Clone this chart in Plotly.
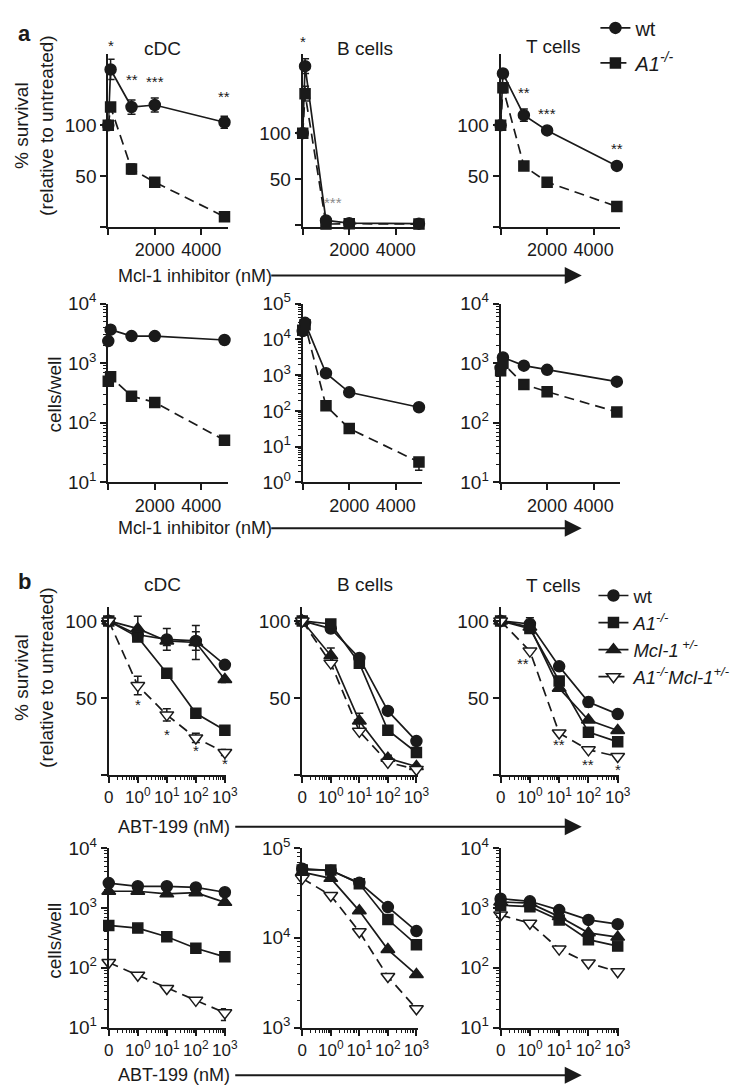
import math
import plotly.graph_objects as go

W, H = 746, 1092
INK = "#1a1a1a"
FONT = "Liberation Sans, Arial, sans-serif"

# ------------------------------------------------------------------ data
CELL_TYPES = ["cDC", "B cells", "T cells"]
MCL1_DOSE = [0, 100, 1000, 2000, 5000]          # nM, Mcl-1 inhibitor
ABT_DOSE = [0, 1, 10, 100, 1000]                # nM, ABT-199

# panel a: % survival (relative to untreated)
surv_a_cdc_wt = [100, 155, 118, 120, 103]
surv_a_cdc_wt_err = [0, 10, 7, 7, 6]
surv_a_cdc_a1 = [100, 118, 57, 44, 10]
surv_a_cdc_a1_err = [0, 4, 5, 2, 2]
surv_a_b_wt = [100, 173, 5, 2, 1.5]
surv_a_b_wt_err = [0, 8, 1, 1, 0.5]
surv_a_b_a1 = [100, 143, 1, 1.5, 1]
surv_a_b_a1_err = [0, 8, 0.5, 0.5, 0.5]
surv_a_t_wt = [100, 151, 110, 95, 60]
surv_a_t_wt_err = [0, 4, 6, 2, 2]
surv_a_t_a1 = [100, 137, 60, 44, 20]
surv_a_t_a1_err = [0, 5, 3, 2, 2]

# panel a: cells/well
cells_a_cdc_wt = [2350, 3650, 2850, 2850, 2450]
cells_a_cdc_a1 = [500, 590, 280, 220, 51]
cells_a_b_wt = [17000, 29000, 1130, 330, 126]
cells_a_b_a1 = [18000, 25700, 138, 32, 3.7]
cells_a_b_a1_err_up = [0, 0, 0, 0, 0.9]
cells_a_b_a1_err_down = [0, 0, 0, 0, 1.5]
cells_a_t_wt = [830, 1250, 910, 775, 490]
cells_a_t_a1 = [750, 1000, 440, 333, 152]

# panel b: % survival
surv_b_cdc_wt = [100, 91, 88, 87, 71.5]
surv_b_cdc_wt_err = [0, 3, 7, 6, 2]
surv_b_cdc_a1 = [100, 89.5, 66, 40, 29]
surv_b_cdc_mcl = [100, 95, 87, 86, 62]
surv_b_cdc_mcl_err = [0, 8, 3, 11, 2]
surv_b_cdc_dko = [100, 58, 39, 24, 14.6]
surv_b_cdc_dko_err = [0, 6, 4, 3, 2]

surv_b_b_wt = [100, 95, 76, 41.6, 22]
surv_b_b_a1 = [100, 98, 72.6, 29, 14.6]
surv_b_b_mcl = [100, 77.5, 35, 10.8, 5.5]
surv_b_b_mcl_err = [0, 5, 5, 2, 1]
surv_b_b_dko = [100, 72.6, 28.3, 8.2, 3.6]

surv_b_t_wt = [100, 98, 70.5, 47.3, 39.5]
surv_b_t_wt_err = [0, 4, 2, 3, 1]
surv_b_t_a1 = [100, 95, 61, 27.8, 21.5]
surv_b_t_mcl = [100, 96, 56.3, 35.7, 28.9]
surv_b_t_dko = [100, 80.4, 27.2, 16.3, 12]

# panel b: cells/well
cells_b_cdc_wt = [2600, 2300, 2300, 2200, 1830]
cells_b_cdc_a1 = [510, 460, 330, 212, 152]
cells_b_cdc_mcl = [1900, 1900, 1720, 1800, 1240]
cells_b_cdc_dko = [122, 75, 45, 28.5, 17.6]
cells_b_cdc_dko_err_up = [0, 0, 0, 0, 3]
cells_b_cdc_dko_err_down = [0, 0, 0, 0, 4.5]

cells_b_b_wt = [59000, 56000, 41000, 22000, 11900]
cells_b_b_a1 = [57000, 57000, 40000, 16000, 8400]
cells_b_b_mcl = [54000, 46000, 20000, 7400, 3900]
cells_b_b_dko = [46000, 29600, 11700, 3700, 1620]

cells_b_t_wt = [1430, 1290, 920, 630, 535]
cells_b_t_a1 = [1110, 1050, 630, 295, 230]
cells_b_t_mcl = [1260, 1200, 716, 383, 325]
cells_b_t_dko = [760, 555, 205, 120, 86]

# significance marks: (dose, y value, text)
stars_a_cdc = [(100, 178, "*"), (1000, 145, "**"), (2000, 143, "***"), (5000, 128, "**")]
stars_a_b = [(0, 199, "*"), (1300, 25, "***")]
stars_a_t = [(1000, 132, "**"), (2000, 112, "***"), (5000, 77, "**")]
stars_b_cdc = [(1, 46, "*"), (10, 26, "*"), (100, 15.6, "*"), (1000, 7.2, "*")]
stars_b_t = [(0.6, 72.5, "**"), (10, 19.9, "**"), (100, 6.6, "**"), (1000, 3.6, "*")]

# ------------------------------------------------------------------ layout helpers
ZERO_POS = 0.1   # where "0" sits on the log ABT-199 axis


def px(x):
    return x / W


def py(y):
    return 1 - y / H


XDOM_A = [(97.5, 220), (296.5, 419), (499, 621.5)]
XDOM_B = [(98, 218), (296, 414), (499, 620)]
YDOM = {"at": (31, 208), "ab": (286.7, 470), "bt": (598, 770), "bb": (845, 1029)}

COMMON = dict(showline=True, linecolor=INK, linewidth=2, ticks="outside", ticklen=6,
              tickwidth=2, tickcolor=INK, showgrid=False, zeroline=False,
              tickfont=dict(size=19, family=FONT, color=INK), fixedrange=True)


def log_minor(lo, hi):
    return dict(tickmode="array", ticks="outside", ticklen=3, tickwidth=1.3, tickcolor=INK,
                showgrid=False,
                tickvals=[m * 10 ** k for k in range(lo, hi) for m in range(2, 10)])


def log_y(lo, hi):
    return dict(type="log", range=[lo, hi], tickmode="array",
                tickvals=[10 ** k for k in range(lo, hi + 1)],
                ticktext=[f"10<sup>{k}</sup>" for k in range(lo, hi + 1)],
                minor=log_minor(lo, hi))


def lin_y(top, bottom=0):
    return dict(range=[bottom, top], tickmode="array", tickvals=[0, 50, 100],
                ticktext=["", "50", "100"])


X_MCL = dict(range=[0, 5150], tickmode="array", tickvals=[0, 2000, 4000],
             ticktext=["", "2000", "4000"], tickangle=0,
             tickfont=dict(size=18, family=FONT, color=INK))
X_ABT = dict(type="log", range=[-1, 3.04], tickmode="array",
             tickvals=[ZERO_POS, 1, 10, 100, 1000],
             ticktext=["0", "10<sup>0</sup>", "10<sup>1</sup>", "10<sup>2</sup>", "10<sup>3</sup>"],
             minor=log_minor(-1, 3), tickangle=0,
             tickfont=dict(size=17, family=FONT, color=INK))

axes = {}
yinfo = {}


def add_axes(n, xdom, ydom, xcfg, ycfg):
    xa = dict(COMMON)
    xa.update(xcfg)
    xa.update(domain=[px(xdom[0]), px(xdom[1])], anchor=f"y{n}" if n > 1 else "y")
    ya = dict(COMMON)
    ya.update(ycfg)
    ya.update(domain=[py(ydom[1]), py(ydom[0])], anchor=f"x{n}" if n > 1 else "x")
    axes["xaxis" if n == 1 else f"xaxis{n}"] = xa
    axes["yaxis" if n == 1 else f"yaxis{n}"] = ya
    yinfo[n] = (ya["range"], ydom[1] - ydom[0])


# panel numbering: 1-3 a top, 4-6 a bottom, 7-9 b top, 10-12 b bottom
for c in range(3):
    add_axes(1 + c, XDOM_A[c], YDOM["at"], X_MCL, lin_y(186, -2) if c == 1 else lin_y(170))
    add_axes(4 + c, XDOM_A[c], YDOM["ab"], X_MCL, log_y(0, 5) if c == 1 else log_y(1, 4))
    add_axes(7 + c, XDOM_B[c], YDOM["bt"], X_ABT, lin_y(108.9))
    add_axes(10 + c, XDOM_B[c], YDOM["bb"], X_ABT, log_y(3, 5) if c == 1 else log_y(1, 4))

STYLE = {
    "wt": dict(name="wt", symbol="circle", size=11, fill=INK),
    "a1": dict(name="<i>A1<sup>-/-</sup></i>", symbol="square", size=10, fill=INK),
    "mcl": dict(name="<i>Mcl-1<sup> +/-</sup></i>", symbol="triangle-up", size=12, fill=INK),
    "dko": dict(name="<i>A1<sup>-/-</sup>Mcl-1<sup>+/-</sup></i>", symbol="triangle-down", size=12,
                fill="white"),
}

fig = go.Figure()


def add_series(n, x, y, key, dashed=False, err=None, err_minus=None, legend=None):
    st = STYLE[key]
    tr = go.Scatter(
        x=x, y=y, mode="lines+markers",
        xaxis="x" if n == 1 else f"x{n}", yaxis="y" if n == 1 else f"y{n}",
        line=dict(color=INK, width=1.7, dash="10px,6px" if dashed else "solid"),
        marker=dict(symbol=st["symbol"], size=st["size"], color=st["fill"],
                    line=dict(color=INK, width=1.5)),
        name=st["name"], showlegend=legend is not None, legend=legend or "legend",
        legendgroup=f"{legend}-{key}", cliponaxis=False, hoverinfo="skip",
    )
    if err is not None:
        tr.error_y = dict(type="data", array=err,
                          arrayminus=err_minus if err_minus is not None else err,
                          symmetric=False, color=INK, thickness=1.5, width=4)
    fig.add_trace(tr)


xa_plot = MCL1_DOSE
xb_plot = [d if d > 0 else ZERO_POS for d in ABT_DOSE]

# a top
add_series(1, xa_plot, surv_a_cdc_wt, "wt", err=surv_a_cdc_wt_err, legend="legend")
add_series(1, xa_plot, surv_a_cdc_a1, "a1", dashed=True, err=surv_a_cdc_a1_err, legend="legend")
add_series(2, xa_plot, surv_a_b_wt, "wt", err=surv_a_b_wt_err)
add_series(2, xa_plot, surv_a_b_a1, "a1", dashed=True, err=surv_a_b_a1_err)
add_series(3, xa_plot, surv_a_t_wt, "wt", err=surv_a_t_wt_err)
add_series(3, xa_plot, surv_a_t_a1, "a1", dashed=True, err=surv_a_t_a1_err)
# a bottom
add_series(4, xa_plot, cells_a_cdc_wt, "wt")
add_series(4, xa_plot, cells_a_cdc_a1, "a1", dashed=True)
add_series(5, xa_plot, cells_a_b_wt, "wt")
add_series(5, xa_plot, cells_a_b_a1, "a1", dashed=True, err=cells_a_b_a1_err_up,
           err_minus=cells_a_b_a1_err_down)
add_series(6, xa_plot, cells_a_t_wt, "wt")
add_series(6, xa_plot, cells_a_t_a1, "a1", dashed=True)
# b top
add_series(7, xb_plot, surv_b_cdc_wt, "wt", err=surv_b_cdc_wt_err, legend="legend2")
add_series(7, xb_plot, surv_b_cdc_a1, "a1", legend="legend2")
add_series(7, xb_plot, surv_b_cdc_mcl, "mcl", err=surv_b_cdc_mcl_err, legend="legend2")
add_series(7, xb_plot, surv_b_cdc_dko, "dko", dashed=True, err=surv_b_cdc_dko_err, legend="legend2")
add_series(8, xb_plot, surv_b_b_wt, "wt")
add_series(8, xb_plot, surv_b_b_a1, "a1")
add_series(8, xb_plot, surv_b_b_mcl, "mcl", err=surv_b_b_mcl_err)
add_series(8, xb_plot, surv_b_b_dko, "dko", dashed=True)
add_series(9, xb_plot, surv_b_t_wt, "wt", err=surv_b_t_wt_err)
add_series(9, xb_plot, surv_b_t_a1, "a1")
add_series(9, xb_plot, surv_b_t_mcl, "mcl")
add_series(9, xb_plot, surv_b_t_dko, "dko", dashed=True)
# b bottom
add_series(10, xb_plot, cells_b_cdc_wt, "wt")
add_series(10, xb_plot, cells_b_cdc_a1, "a1")
add_series(10, xb_plot, cells_b_cdc_mcl, "mcl")
add_series(10, xb_plot, cells_b_cdc_dko, "dko", dashed=True, err=cells_b_cdc_dko_err_up,
           err_minus=cells_b_cdc_dko_err_down)
add_series(11, xb_plot, cells_b_b_wt, "wt")
add_series(11, xb_plot, cells_b_b_a1, "a1")
add_series(11, xb_plot, cells_b_b_mcl, "mcl")
add_series(11, xb_plot, cells_b_b_dko, "dko", dashed=True)
add_series(12, xb_plot, cells_b_t_wt, "wt")
add_series(12, xb_plot, cells_b_t_a1, "a1")
add_series(12, xb_plot, cells_b_t_mcl, "mcl")
add_series(12, xb_plot, cells_b_t_dko, "dko", dashed=True)

# ------------------------------------------------------------------ annotations
ann = []


def text(x, y, t, size=19, angle=0, bold=False, xanchor="center"):
    ann.append(dict(x=px(x), y=py(y), xref="paper", yref="paper", text=f"<b>{t}</b>" if bold else t,
                    showarrow=False, textangle=angle, xanchor=xanchor, yanchor="middle",
                    font=dict(size=size, family=FONT, color=INK)))


def stars(n, lst, logx=False, faded=()):
    (lo, hi), span_px = yinfo[n]
    for i, (x, y, t) in enumerate(lst):
        # marks above the top of the axis are pinned to the top and shifted up in pixels
        shift = 0
        if y > hi:
            shift = (y - hi) * span_px / (hi - lo)
            y = hi
        ann.append(dict(x=math.log10(x) if logx else x, y=y, yshift=shift,
                        xref="x" if n == 1 else f"x{n}", yref="y" if n == 1 else f"y{n}",
                        text=t, showarrow=False, xanchor="center", yanchor="middle",
                        font=dict(size=15, family=FONT, color="#8a8a8a" if i in faded else INK)))


def arrow(x0, x1, y):
    ann.append(dict(x=px(x1), y=py(y), xref="paper", yref="paper", ax=-(x1 - x0), ay=0,
                    axref="pixel", ayref="pixel", text="", showarrow=True, arrowhead=2,
                    arrowsize=1.7, arrowwidth=2, arrowcolor=INK, standoff=0))


stars(1, stars_a_cdc)
stars(2, stars_a_b, faded=(1,))
stars(3, stars_a_t)
stars(7, stars_b_cdc, logx=True)
stars(9, stars_b_t, logx=True)

text(3, 10, "a", size=22, bold=True, xanchor="left")
text(3, 572, "b", size=22, bold=True, xanchor="left")
for (cx, ty_a, ty_b), name in zip([(153, 25, 575), (360, 25, 575), (553, 23, 576)], CELL_TYPES):
    text(cx, ty_a, name)
    text(cx, ty_b, name)

text(22, 104, "% survival<br>(relative to untreated)", angle=-90)
text(22, 670, "% survival<br>(relative to untreated)", angle=-90)
text(43, 380, "cells/well", angle=-90)
text(43, 940, "cells/well", angle=-90)

for y in (258, 517):
    text(186, y, "Mcl-1 inhibitor (nM)", size=18)
    arrow(270, 582, y)
for y in (823, 1078):
    text(165, y, "ABT-199 (nM)", size=18)
    arrow(234, 582, y)

LEG = dict(xanchor="left", yanchor="top", bgcolor="rgba(0,0,0,0)", borderwidth=0,
           itemwidth=30, traceorder="grouped")

fig.update_layout(
    width=W, height=H, margin=dict(l=0, r=0, t=0, b=0), autosize=False,
    paper_bgcolor="white", plot_bgcolor="white",
    font=dict(family=FONT, color=INK),
    annotations=ann,
    legend=dict(LEG, x=px(596), y=py(-16), tracegroupgap=6,
                font=dict(size=20, family=FONT, color=INK)),
    legend2=dict(LEG, x=px(594), y=py(567), tracegroupgap=0,
                 font=dict(size=18.5, family=FONT, color=INK)),
    **axes,
)

fig.write_html("out.html")
